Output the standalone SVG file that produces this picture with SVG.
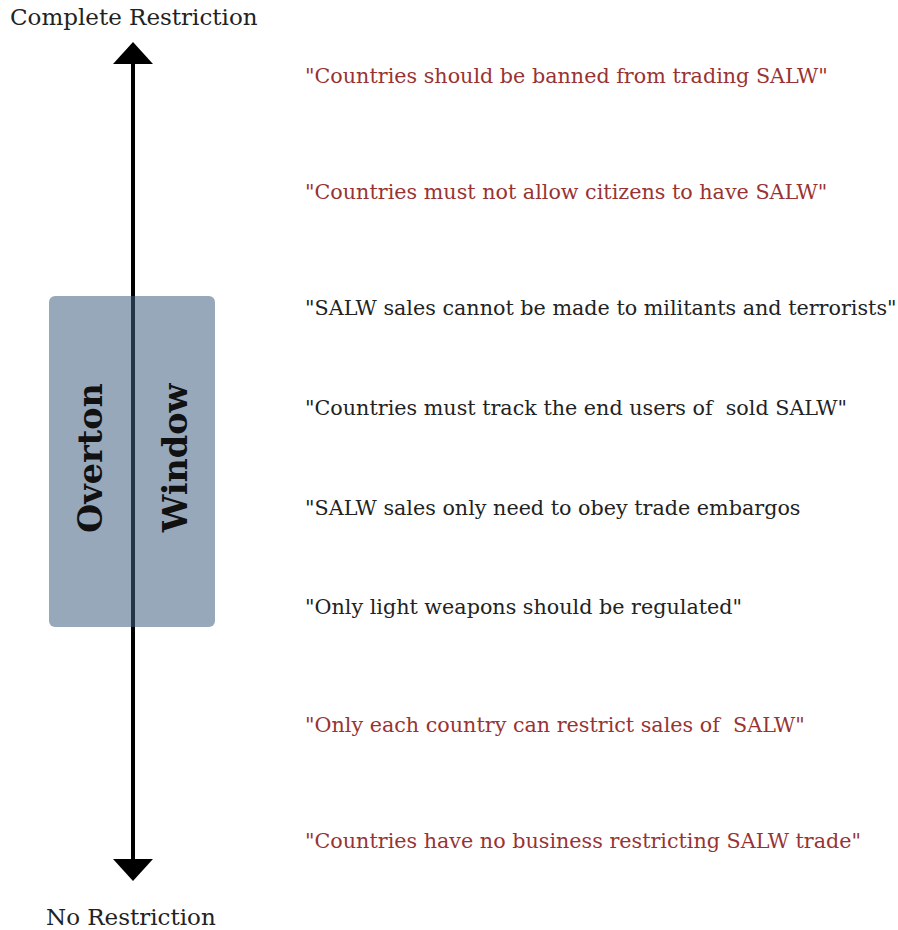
<svg xmlns="http://www.w3.org/2000/svg" width="898" height="930" viewBox="0 0 898 930">
<style>
text{font-family:"DejaVu Serif","Liberation Serif",serif;font-size:20.7px}
.ax{font-size:23px}
.red{fill:#993333}
.blk{fill:#222}
.win{font-size:33.5px;font-weight:bold;fill:#111}
</style>
<rect width="898" height="930" fill="#fff"/>
<g id="connectors">
<line x1="133" y1="60" x2="133" y2="862" stroke="#000" stroke-width="4"/>
<polygon points="133,42 153,64 113,64" fill="#000"/>
<polygon points="133,881 153,859 113,859" fill="#000"/>
</g>
<g id="axis-labels">
<text x="10" y="25" class="blk ax">Complete Restriction</text>
<text x="46" y="925" class="blk ax">No Restriction</text>
</g>
<g id="overton-window">
<rect x="49" y="296" width="166" height="331" rx="6" fill="#436083" fill-opacity="0.55"/>
<text class="win" transform="translate(102,458) rotate(-90)" text-anchor="middle">Overton</text>
<text class="win" transform="translate(187,458) rotate(-90)" text-anchor="middle">Window</text>
</g>
<g id="statements">
<text x="305" y="83" class="red">"Countries should be banned from trading SALW"</text>
<text x="305" y="199" class="red">"Countries must not allow citizens to have SALW"</text>
<text x="305" y="315" class="blk">"SALW sales cannot be made to militants and terrorists"</text>
<text x="305" y="415" class="blk">"Countries must track the end users of&#160; sold SALW"</text>
<text x="305" y="515" class="blk">"SALW sales only need to obey trade embargos</text>
<text x="305" y="614" class="blk">"Only light weapons should be regulated"</text>
<text x="305" y="732" class="red">"Only each country can restrict sales of&#160; SALW"</text>
<text x="305" y="848" class="red">"Countries have no business restricting SALW trade"</text>
</g>
</svg>
